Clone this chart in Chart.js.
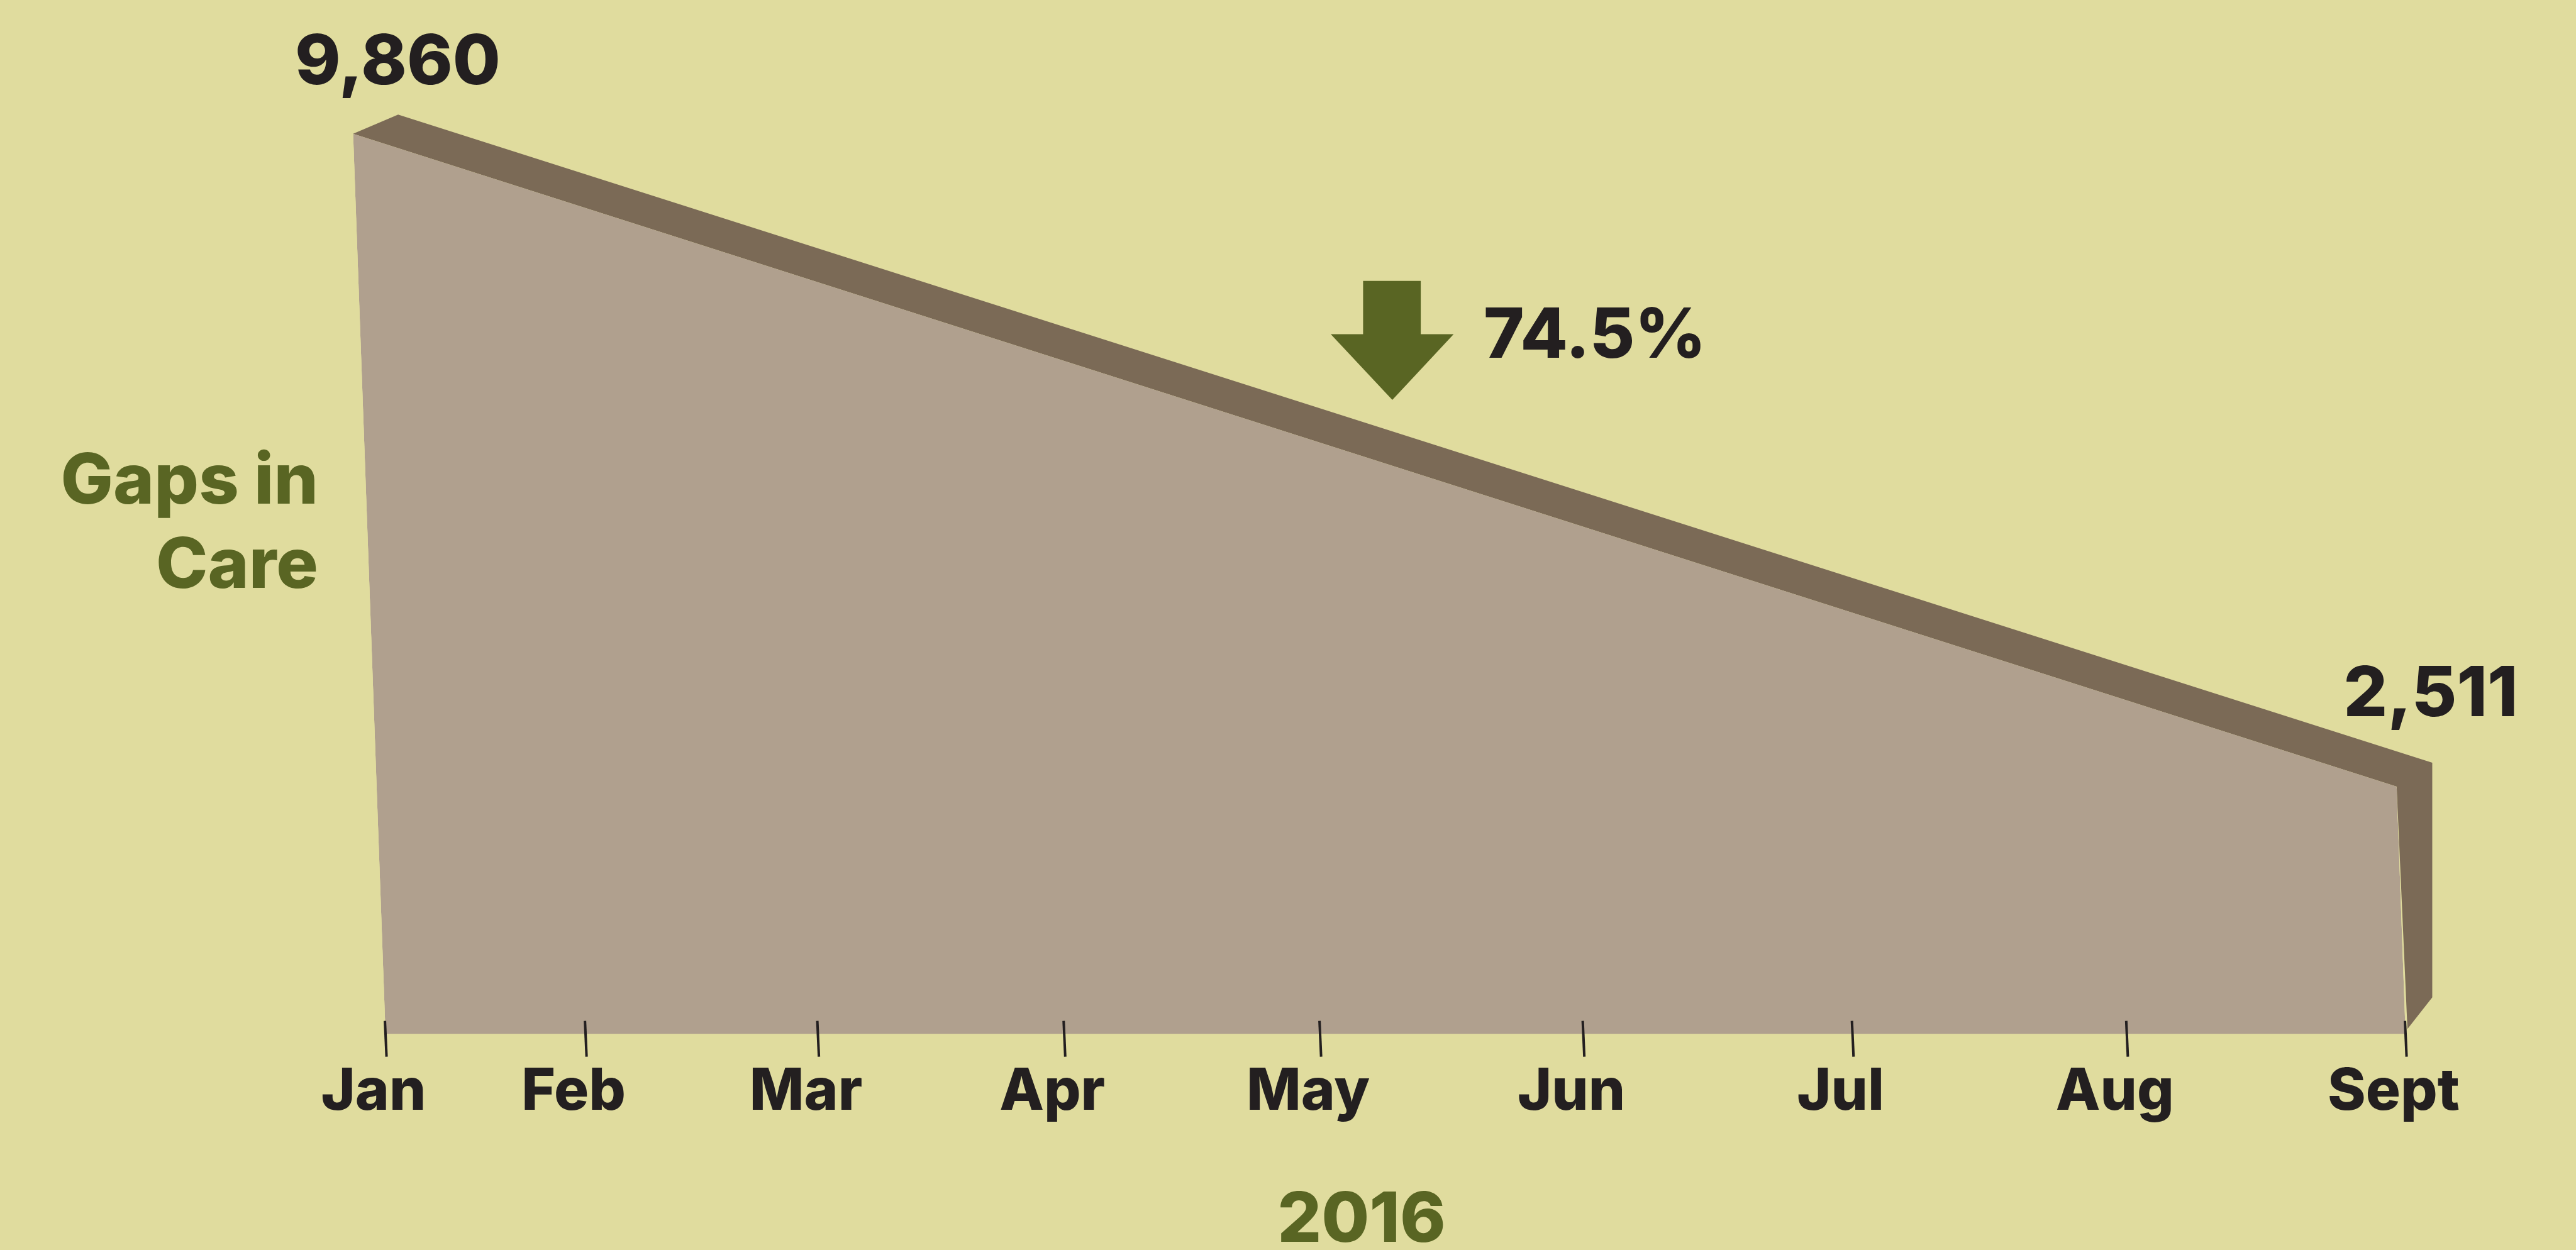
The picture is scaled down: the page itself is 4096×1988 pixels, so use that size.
<!DOCTYPE html>
<html>
<head>
<meta charset="utf-8">
<script src="https://cdn.jsdelivr.net/npm/chart.js@4.4.1/dist/chart.umd.min.js"></script>
<style>
html,body{margin:0;padding:0;background:#E0DC9E;overflow:hidden}
canvas{display:block}
</style>
</head>
<body>
<canvas id="c" width="4096" height="1988"></canvas>
<script>
// ---- data ----
const months = ['Jan', 'Feb', 'Mar', 'Apr', 'May', 'Jun', 'Jul', 'Aug', 'Sept'];
const gapsInCare = [9860, null, null, null, null, null, null, null, 2511];
const yTitleLines = ['Gaps in', 'Care'];
const xTitle = '2016';

// ---- style ----
const BG = '#E0DC9E', FRONT = '#B0A08E', SIDE = '#7B6A56', INK = '#231F20', OLIVE = '#596523';
const FAMILY = 'Inter, "Open Sans", "DejaVu Sans", sans-serif';
const WEIGHT = '800';
const SHEAR = 0.036, TICK_SLANT = 0.045, GAMMA = 1.112;

// perspective-like x scale (spacing widens to the right)
class WarpScale extends Chart.LinearScale {
  getPixelForValue(value) {
    if (value === null || value === undefined) return NaN;
    const t = (value - this._startValue) / this._valueRange;
    const w = t <= 0 ? t : Math.pow(t, GAMMA);
    return this.getPixelForDecimal(w);
  }
  getValueForPixel(pixel) {
    const w = this.getDecimalForPixel(pixel);
    const t = w <= 0 ? w : Math.pow(w, 1 / GAMMA);
    return this._startValue + t * this._valueRange;
  }
}
WarpScale.id = 'warp';
WarpScale.defaults = Chart.LinearScale.defaults;
Chart.register(WarpScale);

const points = months.map((m, i) => ({ x: i, y: gapsInCare[i] })).filter(p => p.y !== null);
const firstVal = points[0].y, lastVal = points[points.length - 1].y;
const pctDrop = ((firstVal - lastVal) / firstVal * 100).toFixed(1) + '%';
const fmt = v => v.toLocaleString('en-US');

const deco = {
  id: 'deco',
  beforeDraw(chart) {
    const c = chart.ctx;
    c.save(); c.fillStyle = BG; c.fillRect(0, 0, chart.width, chart.height); c.restore();
  },
  beforeDatasetsDraw(chart) {
    const ctx = chart.ctx, base = chart.chartArea.bottom;
    const pts = chart.getDatasetMeta(0).data;
    const sh = p => ({ x: p.x + SHEAR * (p.y - base), y: p.y });
    const last = pts[pts.length - 1];
    const A = sh(pts[0]), D = sh(last);
    const B = { x: A.x + 71.6, y: A.y - 30.6 };
    const C = { x: D.x + 56.6, y: D.y - 37.9 };
    const E = { x: C.x, y: base - 58.4 };
    const F = { x: last.x + 3, y: base - 8 };
    ctx.save();
    ctx.fillStyle = SIDE;
    ctx.beginPath();
    [A, B, C, E, F, D].forEach((p, i) => i ? ctx.lineTo(p.x, p.y) : ctx.moveTo(p.x, p.y));
    ctx.closePath();
    ctx.fill();
    ctx.restore();
    ctx.save();
    ctx.transform(1, 0, SHEAR, 1, -SHEAR * base, 0);
  },
  afterDatasetsDraw(chart) {
    const ctx = chart.ctx;
    ctx.restore();
    const base = chart.chartArea.bottom;
    const xs = chart.scales.x;
    // slanted tick marks
    ctx.save();
    ctx.strokeStyle = INK; ctx.lineWidth = 4;
    xs.ticks.forEach((t, i) => {
      const x = xs.getPixelForTick(i);
      ctx.beginPath();
      ctx.moveTo(x - TICK_SLANT * 21, base - 21);
      ctx.lineTo(x + TICK_SLANT * 36, base + 36);
      ctx.stroke();
    });
    ctx.restore();

    const pts = chart.getDatasetMeta(0).data;
    const sh = p => ({ x: p.x + SHEAR * (p.y - base), y: p.y });
    const A = sh(pts[0]), D = sh(pts[pts.length - 1]);

    ctx.save();
    ctx.font = WEIGHT + ' 110px ' + FAMILY;
    ctx.fillStyle = INK;
    ctx.textBaseline = 'alphabetic';
    ctx.textAlign = 'center';
    ctx.fillText(fmt(firstVal), A.x + 71, A.y - 79);
    ctx.fillText(fmt(lastVal), D.x + 54, D.y - 111.6);
    ctx.textAlign = 'left';
    ctx.fillText(pctDrop, 2359, 568.5);

    // down arrow
    ctx.fillStyle = OLIVE;
    ctx.beginPath();
    ctx.moveTo(2167.4, 446.8); ctx.lineTo(2259.1, 446.8); ctx.lineTo(2259.1, 531.5);
    ctx.lineTo(2311.4, 531.5); ctx.lineTo(2213.9, 635.9); ctx.lineTo(2116, 531.5);
    ctx.lineTo(2167.4, 531.5); ctx.closePath(); ctx.fill();

    // axis titles
    ctx.fillStyle = OLIVE;
    ctx.textAlign = 'right';
    ctx.font = WEIGHT + ' 111px ' + FAMILY;
    ctx.fillText(yTitleLines[0], 506, 801);
    ctx.fillText(yTitleLines[1], 506, 935);
    ctx.textAlign = 'center';
    ctx.font = WEIGHT + ' 110px ' + FAMILY;
    ctx.fillText(xTitle, 2165, 1975);
    ctx.restore();
  }
};

function draw() {
  new Chart(document.getElementById('c'), {
    type: 'line',
    data: {
      datasets: [{
        data: points,
        fill: 'start',
        backgroundColor: FRONT,
        borderColor: FRONT,
        borderWidth: 0,
        pointRadius: 0,
        tension: 0,
        clip: false
      }]
    },
    options: {
      responsive: false,
      devicePixelRatio: 1,
      animation: false,
      events: [],
      layout: { padding: { left: 613, right: 271, top: 193, bottom: 157 } },
      plugins: { legend: { display: false }, tooltip: { enabled: false }, title: { display: false } },
      scales: {
        x: {
          type: 'warp',
          min: 0, max: 8,
          grid: { display: false, drawTicks: false },
          border: { display: false },
          ticks: {
            stepSize: 1,
            autoSkip: false,
            maxRotation: 0,
            padding: 38,
            labelOffset: -19,
            color: INK,
            font: { family: FAMILY, size: 92, weight: WEIGHT },
            callback: v => months[v]
          }
        },
        y: { type: 'linear', display: false, min: -275, max: 10000 }
      }
    },
    plugins: [deco]
  });
}
if (document.fonts && document.fonts.load) {
  Promise.all([document.fonts.load(WEIGHT + ' 110px Inter'), document.fonts.load(WEIGHT + ' 92px Inter')]).then(draw, draw);
} else { draw(); }
</script>
</body>
</html>
